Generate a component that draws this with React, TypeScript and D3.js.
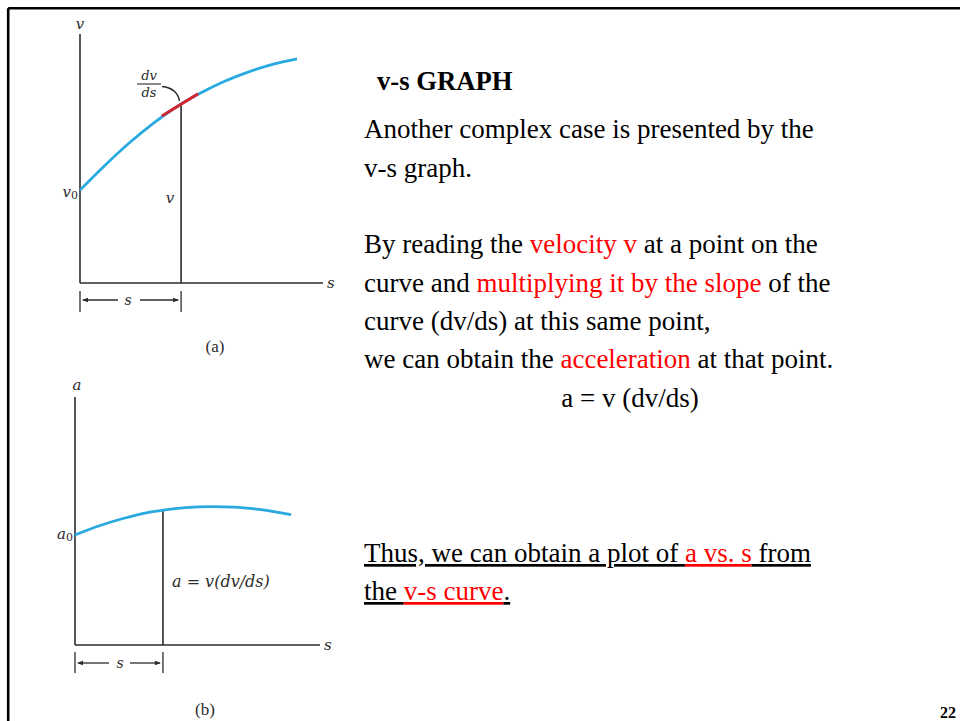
import React from "react";
import * as d3 from "d3";

// ---- data: v-s curve (graph a) ----
const vsS = [0, 1, 2, 3, 4.16, 5, 6, 7, 8, 8.93];
const vsV = [3.73, 4.7, 5.6, 6.4, 7.19, 7.65, 8.12, 8.5, 8.8, 9.0];
const pointA = { s: 4.16, v: 7.19 };
const tangentS = [3.37, 4.86];
const tangentV = [6.71, 7.6];

// ---- data: a-s curve (graph b) ----
const asS = [0, 1, 2, 3, 3.59, 4.5, 5.6, 6.5, 7.5, 8.82];
const asA = [4.44, 4.81, 5.11, 5.35, 5.44, 5.54, 5.58, 5.56, 5.47, 5.26];
const pointB = { s: 3.59, a: 5.44 };

const W = 960;
const H = 721;

const BLUE = "#29abe2";
const RED_TAN = "#d6262e";
const RED = "#ff0000";
const AX = "#2b2b2b";
const SERIF = "'Liberation Serif', 'Times New Roman', serif";
const MATH = "'DejaVu Serif', serif";

function DimArrow({ x0, x1, y, tickTop, tickBot, sx, gapL, gapR }: any) {
  return (
    <g stroke={AX} strokeWidth={1.3} fill="none">
      <line x1={x0} y1={tickTop} x2={x0} y2={tickBot} />
      <line x1={x1} y1={tickTop} x2={x1} y2={tickBot} />
      <line x1={x0 + 3} y1={y} x2={gapL} y2={y} />
      <line x1={gapR} y1={y} x2={x1 - 3} y2={y} />
      <path d={`M${x0 + 2},${y} l6,-2.2 l0,4.4 z`} fill={AX} stroke="none" />
      <path d={`M${x1 - 2},${y} l-6,-2.2 l0,4.4 z`} fill={AX} stroke="none" />
      <text x={sx} y={y + 4.5} fontFamily={MATH} fontStyle="italic" fontSize={14} fill={AX} stroke="none" textAnchor="middle">s</text>
    </g>
  );
}

export default function App() {
  // graph (a)
  const xA = d3.scaleLinear().domain([0, 10]).range([80, 323]);
  const yA = d3.scaleLinear().domain([0, 10]).range([283, 34]);
  const lineA = d3
    .line<number>()
    .x((_, i) => xA(vsS[i]))
    .y((d) => yA(d))
    .curve(d3.curveMonotoneX);
  const tanLine = d3
    .line<number>()
    .x((_, i) => xA(tangentS[i]))
    .y((d) => yA(d));

  // graph (b)
  const xB = d3.scaleLinear().domain([0, 10]).range([75, 320]);
  const yB = d3.scaleLinear().domain([0, 10]).range([645, 397]);
  const lineB = d3
    .line<number>()
    .x((_, i) => xB(asS[i]))
    .y((d) => yB(d))
    .curve(d3.curveMonotoneX);

  const pxA = xA(pointA.s);
  const pyA = yA(pointA.v);
  const pxB = xB(pointB.s);
  const pyB = yB(pointB.a);

  const bodySize = 27;
  const bx = 364;

  return (
    <svg
      width={W}
      height={H}
      viewBox={`0 0 ${W} ${H}`}
      style={{ position: "absolute", left: 0, top: 0, background: "#fff" }}
    >
      <rect x={0} y={0} width={W} height={H} fill="#fff" />
      {/* slide frame */}
      <line x1={8.2} y1={8.2} x2={W} y2={8.2} stroke="#000" strokeWidth={2.6} />
      <line x1={8.2} y1={8.2} x2={8.2} y2={H} stroke="#000" strokeWidth={2.6} />

      {/* ===== Graph (a) ===== */}
      <g>
        <line x1={xA(0)} y1={yA(10)} x2={xA(0)} y2={yA(0)} stroke={AX} strokeWidth={1.6} />
        <line x1={xA(0)} y1={yA(0)} x2={xA(10)} y2={yA(0)} stroke={AX} strokeWidth={1.6} />
        <line x1={pxA} y1={pyA} x2={pxA} y2={yA(0)} stroke={AX} strokeWidth={1.6} />
        <path d={lineA(vsV) || ""} fill="none" stroke={BLUE} strokeWidth={2.8} />
        <path d={tanLine(tangentV) || ""} fill="none" stroke={RED_TAN} strokeWidth={3} />
        {/* dv/ds label */}
        <text x={149} y={80} fontFamily={MATH} fontStyle="italic" fontSize={13} fill={AX} textAnchor="middle">dv</text>
        <line x1={137} y1={84} x2={161} y2={84} stroke={AX} strokeWidth={1.1} />
        <text x={149} y={97} fontFamily={MATH} fontStyle="italic" fontSize={13} fill={AX} textAnchor="middle">ds</text>
        <path d={`M162,86.5 Q177,88 179.5,101`} fill="none" stroke={AX} strokeWidth={1.4} />
        {/* labels */}
        <text x={80} y={29} fontFamily={MATH} fontStyle="italic" fontSize={15} fill={AX} textAnchor="middle">v</text>
        <text x={xA(10) + 4} y={yA(0) + 5} fontFamily={MATH} fontStyle="italic" fontSize={15} fill={AX}>s</text>
        <text x={78} y={197} fontFamily={MATH} fontStyle="italic" fontSize={15} fill={AX} textAnchor="end">
          v<tspan fontStyle="normal" fontSize={11} dy={2}>0</tspan>
        </text>
        <text x={170} y={203} fontFamily={MATH} fontStyle="italic" fontSize={15} fill={AX} textAnchor="middle">v</text>
        <DimArrow x0={xA(0)} x1={pxA} y={300} tickTop={291} tickBot={312} sx={128} gapL={118} gapR={140} />
        <text x={215} y={352} fontFamily={SERIF} fontSize={17} fill={AX} textAnchor="middle">(a)</text>
      </g>

      {/* ===== Graph (b) ===== */}
      <g>
        <line x1={xB(0)} y1={yB(10)} x2={xB(0)} y2={yB(0)} stroke={AX} strokeWidth={1.6} />
        <line x1={xB(0)} y1={yB(0)} x2={xB(10)} y2={yB(0)} stroke={AX} strokeWidth={1.6} />
        <line x1={pxB} y1={pyB} x2={pxB} y2={yB(0)} stroke={AX} strokeWidth={1.6} />
        <path d={lineB(asA) || ""} fill="none" stroke={BLUE} strokeWidth={2.8} />
        <text x={77} y={390} fontFamily={MATH} fontStyle="italic" fontSize={15} fill={AX} textAnchor="middle">a</text>
        <text x={xB(10) + 4} y={yB(0) + 5} fontFamily={MATH} fontStyle="italic" fontSize={15} fill={AX}>s</text>
        <text x={73} y={539} fontFamily={MATH} fontStyle="italic" fontSize={15} fill={AX} textAnchor="end">
          a<tspan fontStyle="normal" fontSize={11} dy={2}>0</tspan>
        </text>
        <text x={172} y={587} fontFamily={MATH} fontStyle="italic" fontSize={16} fill={AX}>a = v(dv/ds)</text>
        <DimArrow x0={xB(0)} x1={pxB} y={663} tickTop={652} tickBot={673} sx={120} gapL={109} gapR={130} />
        <text x={205} y={715} fontFamily={SERIF} fontSize={17} fill={AX} textAnchor="middle">(b)</text>
      </g>

      {/* ===== Right-hand text ===== */}
      <g fontFamily={SERIF} fontSize={bodySize} fill="#000">
        <text x={377} y={90} fontWeight="bold" fontSize={26.67}>v-s GRAPH</text>
        <text x={bx} y={138}>Another complex case is presented by the</text>
        <text x={bx} y={177}>v-s graph.</text>
        <text x={bx} y={253}>
          By reading the <tspan fill={RED}>velocity v</tspan> at a point on the
        </text>
        <text x={bx} y={292}>
          curve and <tspan fill={RED}>multiplying it by the slope</tspan> of the
        </text>
        <text x={bx} y={330}>curve (dv/ds) at this same point,</text>
        <text x={bx} y={368}>
          we can obtain the <tspan fill={RED}>acceleration</tspan> at that point.
        </text>
        <text x={630} y={407} textAnchor="middle">a = v (dv/ds)</text>
        <text x={bx} y={562}>
          <tspan textDecoration="underline">Thus, we can obtain a plot of </tspan>
          <tspan fill={RED} textDecoration="underline">a vs. s</tspan>
          <tspan textDecoration="underline"> from</tspan>
        </text>
        <text x={bx} y={600}>
          <tspan textDecoration="underline">the </tspan>
          <tspan fill={RED} textDecoration="underline">v-s curve</tspan>
          <tspan textDecoration="underline">.</tspan>
        </text>
        <text x={956} y={718} fontWeight="bold" fontSize={16} textAnchor="end">22</text>
      </g>
    </svg>
  );
}
